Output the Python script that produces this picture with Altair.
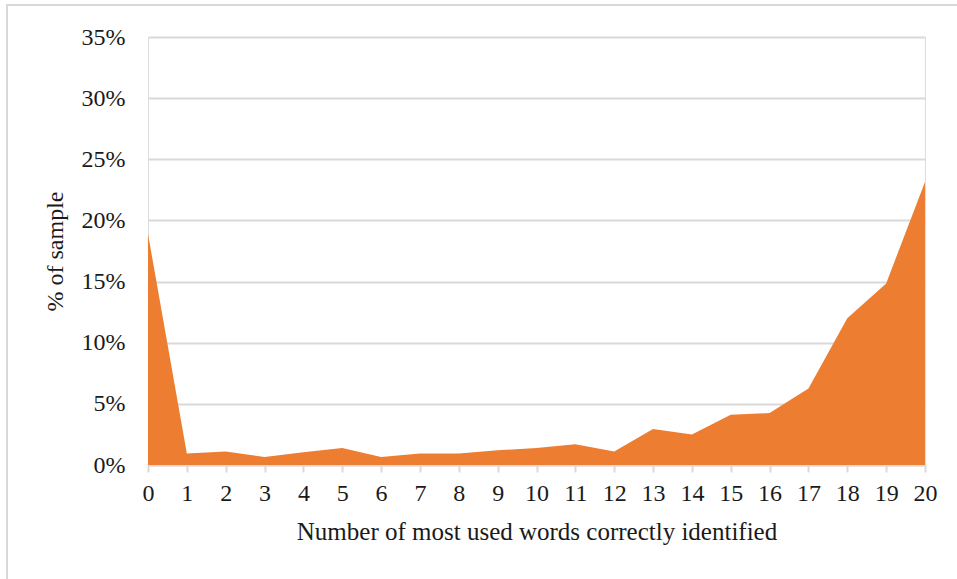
import altair as alt
import pandas as pd

# Number of most used words correctly identified (0-20) and share of sample
words_identified = list(range(0, 21))
share_pct = [18.9, 0.95, 1.1, 0.65, 1.05, 1.4, 0.65, 0.95, 0.95, 1.2, 1.4,
             1.7, 1.1, 2.95, 2.5, 4.1, 4.25, 6.25, 12.0, 14.85, 23.15]

df = pd.DataFrame({"words": words_identified, "share": [v / 100 for v in share_pct]})

FONT = "Liberation Serif"
GRID = "#D9D9D9"
TEXT = "#1a1a1a"

area = alt.Chart(df).mark_area(color="#ED7D31", opacity=1, interpolate="linear").encode(
    x=alt.X("words:Q",
            scale=alt.Scale(domain=[0, 20], nice=False, zero=False),
            axis=alt.Axis(title="Number of most used words correctly identified",
                          values=words_identified, format="d",
                          grid=False, domain=True, domainColor=GRID, domainWidth=2,
                          ticks=True, tickColor=GRID, tickSize=7, tickWidth=2,
                          labelPadding=9, labelFontSize=24, labelFont=FONT,
                          labelColor=TEXT, titleFont=FONT, titleFontSize=25,
                          titleFontWeight="normal", titleColor=TEXT,
                          titlePadding=14, labelFlush=False)),
    y=alt.Y("share:Q",
            scale=alt.Scale(domain=[0, 0.35], nice=False),
            axis=alt.Axis(title="% of sample", format=".0%",
                          values=[0, 0.05, 0.10, 0.15, 0.20, 0.25, 0.30, 0.35],
                          grid=True, gridColor=GRID, gridWidth=2,
                          domain=False, ticks=False, labelPadding=23,
                          labelFontSize=24, labelFont=FONT, labelColor=TEXT,
                          titleFont=FONT, titleFontSize=24, titleFontWeight="normal",
                          titleColor=TEXT, titlePadding=14)),
)

# Thin frame along the top and left of the figure
frame_top = alt.Chart(df).mark_rule(color="#D9D9D9", strokeWidth=2, clip=False).encode(
    x=alt.value(-142), x2=alt.value(840), y=alt.value(-32)
)
frame_left = alt.Chart(df).mark_rule(color="#D9D9D9", strokeWidth=2, clip=False).encode(
    x=alt.value(-141), y=alt.value(-32), y2=alt.value(560)
)

chart = alt.layer(area, frame_top, frame_left).properties(
    width=777, height=428,
    padding={"left": 148, "top": 37, "right": 32, "bottom": 114},
    autosize=alt.AutoSizeParams(type="none"),
).configure_view(stroke=None).configure(background="white")

chart.save("out.html", embed_options={"renderer": "svg", "actions": False})
